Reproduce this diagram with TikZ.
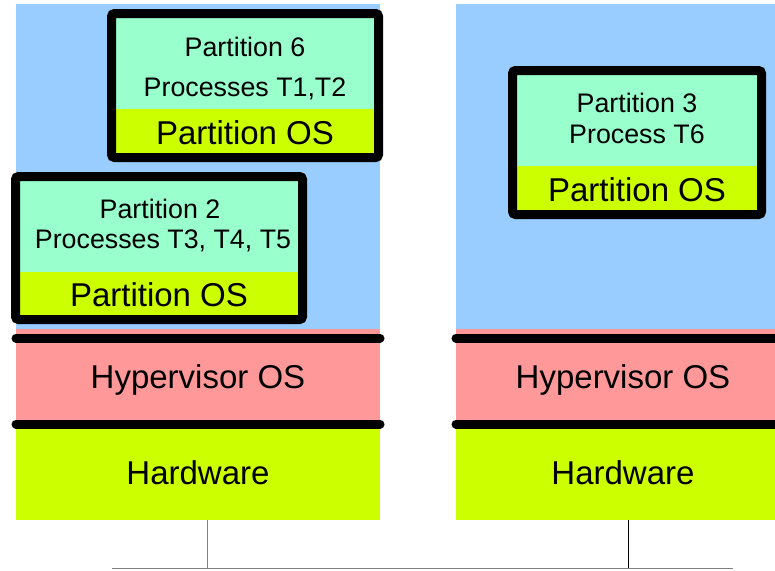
\documentclass[tikz,border=0pt]{standalone}
\usepackage{fontspec}
\setmainfont{Liberation Sans}
\definecolor{colblue}{HTML}{99CCFF}
\definecolor{colpink}{HTML}{FF9999}
\definecolor{colyel}{HTML}{CCFF00}
\definecolor{colmint}{HTML}{99FFCC}
\definecolor{colbus}{HTML}{808080}
\begin{document}
\begin{tikzpicture}[x=1pt,y=-1pt,
  band/.style={anchor=north west, inner sep=0pt, outer sep=0pt, draw=none},
  pbox/.style={anchor=north west, inner sep=0pt, outer sep=0pt, draw=none, fill=colmint},
  osband/.style={anchor=south west, inner sep=0pt, outer sep=0pt, draw=none, fill=colyel},
  frame/.style={line width=9pt, rounded corners=3pt, draw=black},
  sepline/.style={line width=9pt, line cap=round, draw=black},
  smalltxt/.style={anchor=base, inner sep=0pt, font=\fontsize{26.8}{30}\selectfont},
  bigtxt/.style={anchor=base, inner sep=0pt, font=\fontsize{33}{38}\selectfont},
  bus/.style={line width=1pt, draw=colbus}
]
\useasboundingbox (0,0) rectangle (775,570);

% ---- left stack ----
\node[band, fill=colblue, minimum width=364pt, minimum height=325pt] (appL) at (16,4) {};
\node[band, fill=colpink, minimum width=364pt, minimum height=95pt] (hypL) at (16,329) {};
\node[band, fill=colyel, minimum width=364pt, minimum height=96pt] (hwL) at (16,424) {};
\node[bigtxt] (hypLt) at (198,388.3) {Hypervisor OS};
\node[bigtxt] (hwLt) at (198,484) {Hardware};
\draw[sepline] ([yshift=-9pt]hypL.north west) -- ([yshift=-9pt]hypL.north east);
\draw[sepline] (hypL.south west) -- (hypL.south east);

% ---- right stack ----
\node[band, fill=colblue, minimum width=334pt, minimum height=325pt] (appR) at (456,4) {};
\node[band, fill=colpink, minimum width=334pt, minimum height=95pt] (hypR) at (456,329) {};
\node[band, fill=colyel, minimum width=334pt, minimum height=96pt] (hwR) at (456,424) {};
\node[bigtxt] (hypRt) at (623,388.3) {Hypervisor OS};
\node[bigtxt] (hwRt) at (623,484) {Hardware};
\draw[sepline] ([yshift=-9pt]hypR.north west) -- ([yshift=-9pt]hypR.north east);
\draw[sepline] (hypR.south west) -- (hypR.south east);

% ---- Partition 6 ----
\node[pbox, minimum width=267pt, minimum height=144pt] (p6) at (111.5,13.5) {};
\node[osband, minimum width=267pt, minimum height=48.5pt] (p6os) at (p6.south west) {};
\draw[frame] (p6.north west) rectangle (p6.south east);
\node[smalltxt] (p6a) at (245,56) {Partition 6};
\node[smalltxt] (p6b) at (245,96.7) {Processes T1,T2};
\node[bigtxt] (p6c) at (245,144) {Partition OS};

% ---- Partition 2 ----
\node[pbox, minimum width=287pt, minimum height=143pt] (p2) at (15.5,176.5) {};
\node[osband, minimum width=287pt, minimum height=47.5pt] (p2os) at (p2.south west) {};
\draw[frame] (p2.north west) rectangle (p2.south east);
\node[smalltxt] (p2a) at (160,218.3) {Partition 2};
\node[smalltxt] (p2b) at (163,248.3) {Processes T3, T4, T5};
\node[bigtxt] (p2c) at (159,306) {Partition OS};

% ---- Partition 3 ----
\node[pbox, minimum width=249pt, minimum height=144pt] (p3) at (512.5,70.5) {};
\node[osband, minimum width=249pt, minimum height=48.5pt] (p3os) at (p3.south west) {};
\draw[frame] (p3.north west) rectangle (p3.south east);
\node[smalltxt] (p3a) at (637,112.7) {Partition 3};
\node[smalltxt] (p3b) at (637,143.3) {Process T6};
\node[bigtxt] (p3c) at (637,201.7) {Partition OS};

% ---- network ----
\coordinate (busL) at (112,568);
\coordinate (busR) at (733,568);
\coordinate (tapL) at (207,568);
\coordinate (tapR) at (628,568);
\draw[bus] (busL) -- (busR);
\draw[bus] (hwL.south -| tapL) -- (tapL);
\draw[bus, draw=black] (hwR.south -| tapR) -- (tapR);
\end{tikzpicture}
\end{document}
